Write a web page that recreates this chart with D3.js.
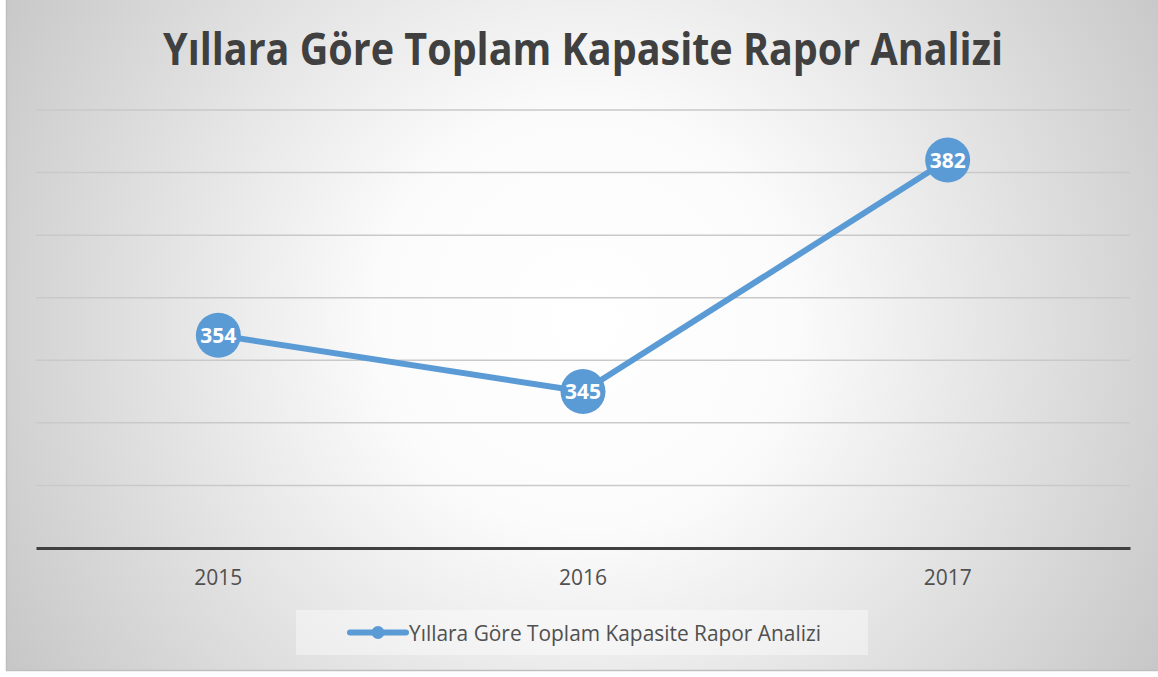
<!DOCTYPE html>
<html>
<head>
<meta charset="utf-8">
<script src="https://cdn.jsdelivr.net/npm/d3@7"></script>
<style>
  html, body { margin: 0; padding: 0; background: #ffffff; }
  svg { display: block; }
</style>
</head>
<body>
<svg id="chart" width="1158" height="677"></svg>
<script>
const title = "Yıllara Göre Toplam Kapasite Rapor Analizi";
const seriesName = "Yıllara Göre Toplam Kapasite Rapor Analizi";
const categories = ["2015", "2016", "2017"];
const values = [354, 345, 382];
const yTicks = [320, 330, 340, 350, 360, 370, 380, 390];

const W = 1158, H = 677;
const svg = d3.select("#chart");
const color = "#5b9bd5";
const font = "'Open Sans', 'DejaVu Sans', sans-serif";

// background with radial gradient
const defs = svg.append("defs");
const grad = defs.append("radialGradient")
  .attr("id", "bg").attr("gradientUnits", "userSpaceOnUse")
  .attr("cx", 585).attr("cy", 320).attr("r", 700);
grad.append("stop").attr("offset", "0").attr("stop-color", "#ffffff");
grad.append("stop").attr("offset", "0.3").attr("stop-color", "#fbfbfb");
grad.append("stop").attr("offset", "1").attr("stop-color", "#c4c4c4");

svg.append("rect").attr("x", 6.5).attr("y", -5).attr("width", 1170).attr("height", 675.5)
  .attr("fill", "url(#bg)").attr("stroke", "#bfbfbf").attr("stroke-width", 1.5);

const margin = { left: 36, right: 1130, top: 110, bottom: 548 };
const x = d3.scaleBand().domain(categories).range([margin.left, margin.right]);
const y = d3.scaleLinear().domain([320, 390]).range([margin.bottom, margin.top]);

// gridlines
svg.append("g").selectAll("line").data(yTicks.slice(1)).join("line")
  .attr("x1", margin.left).attr("x2", margin.right)
  .attr("y1", d => y(d)).attr("y2", d => y(d))
  .attr("stroke", "#c9c9c9").attr("stroke-width", 1.5);

// x axis
const xAxis = svg.append("g").attr("transform", `translate(0,${y(320)})`)
  .call(d3.axisBottom(x).tickSize(0).tickPadding(22));
xAxis.select(".domain").attr("stroke", "#404040").attr("stroke-width", 3);
xAxis.selectAll("text").attr("font-family", font).attr("font-size", 21)
  .attr("fill", "#505050");

// title
svg.append("text").attr("x", 583).attr("y", 65).attr("text-anchor", "middle")
  .attr("font-family", font).attr("font-weight", "bold").attr("font-size", 45)
  .attr("fill", "#404040")
  .attr("textLength", 840).attr("lengthAdjust", "spacingAndGlyphs")
  .text(title);

// line
const cx = d => x(d) + x.bandwidth() / 2;
const data = categories.map((c, i) => ({ c, v: values[i] }));
svg.append("path").datum(data)
  .attr("d", d3.line().x(d => cx(d.c)).y(d => y(d.v)))
  .attr("fill", "none").attr("stroke", color).attr("stroke-width", 6)
  .attr("stroke-linejoin", "round").attr("stroke-linecap", "round");

svg.append("g").selectAll("circle").data(data).join("circle")
  .attr("cx", d => cx(d.c)).attr("cy", d => y(d.v)).attr("r", 22.5)
  .attr("fill", color);

svg.append("g").selectAll("text").data(data).join("text")
  .attr("x", d => cx(d.c)).attr("y", d => y(d.v)).attr("dy", "0.36em")
  .attr("text-anchor", "middle").attr("font-family", font)
  .attr("font-weight", "bold").attr("font-size", 22).attr("fill", "#ffffff")
  .attr("textLength", 36).attr("lengthAdjust", "spacingAndGlyphs")
  .text(d => d.v);

// legend
const lg = svg.append("g");
lg.append("rect").attr("x", 296).attr("y", 610).attr("width", 572).attr("height", 45)
  .attr("fill", "rgba(255,255,255,0.4)");
lg.append("line").attr("x1", 350).attr("x2", 406).attr("y1", 632.5).attr("y2", 632.5)
  .attr("stroke", color).attr("stroke-width", 6).attr("stroke-linecap", "round");
lg.append("circle").attr("cx", 378).attr("cy", 632.5).attr("r", 6.5).attr("fill", color);
lg.append("text").attr("x", 409).attr("y", 641).attr("font-family", font)
  .attr("font-size", 22).attr("fill", "#505050")
  .attr("textLength", 412).attr("lengthAdjust", "spacingAndGlyphs")
  .text(seriesName);
</script>
</body>
</html>
